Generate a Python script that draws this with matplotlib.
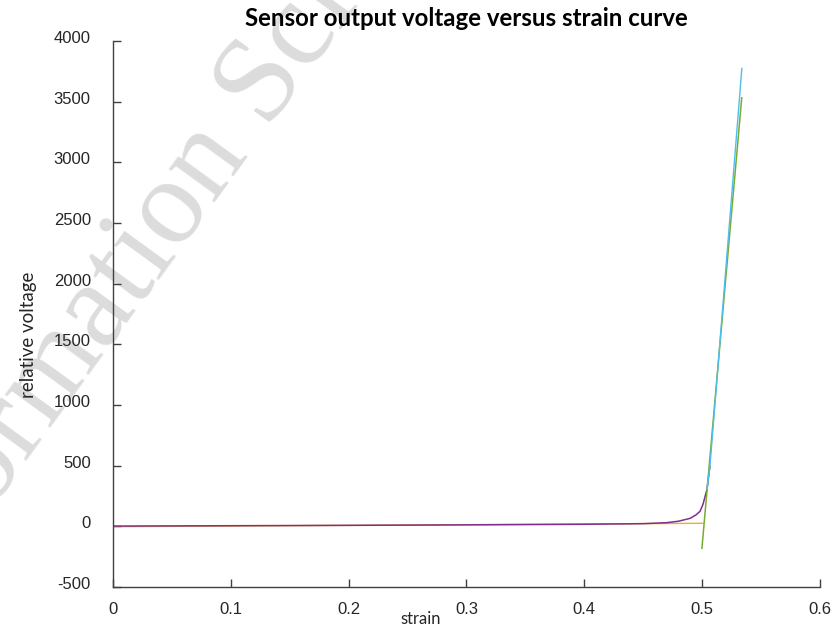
import matplotlib
matplotlib.use("Agg")
import matplotlib.pyplot as plt
import matplotlib.transforms as mtransforms

# measured curve (purple) - slow rise then knee near strain 0.5
strain_meas = [0.0, 0.1, 0.2, 0.3, 0.4, 0.45, 0.47, 0.48, 0.49, 0.495, 0.4983, 0.5008, 0.5042, 0.5067]
volt_meas = [2, 5, 8, 12, 17, 22, 30, 42, 66, 95, 124, 181, 305, 494]

# steep part of the measured curve (light blue)
strain_steep = [0.5042, 0.5067, 0.5182, 0.5338]
volt_steep = [305, 494, 1880, 3774]

# linear fit, low strain region (yellow)
strain_fit1 = [0.0, 0.5007]
volt_fit1 = [-3, 25]

# linear fit, high strain region (green)
strain_fit2 = [0.4999, 0.5337]
volt_fit2 = [-181, 3532]

xticks = [0, 0.1, 0.2, 0.3, 0.4, 0.5, 0.6]
yticks = [-500, 0, 500, 1000, 1500, 2000, 2500, 3000, 3500, 4000]

PURPLE = '#7E2F8E'
YELLOW = '#EDB120'
GREEN = '#77AC30'
LBLUE = '#4DBEEE'
AXCOL = '#404040'

fig = plt.figure(figsize=(8.4, 6.28), dpi=100)
ax = fig.add_axes([0.1345, 0.0653, 0.8415, 0.8694])
ax.patch.set_alpha(0)

# watermark behind everything
fig.text(0.236, 0.642, "Information Science", family="Liberation Serif", fontsize=88,
         color='#dcdcdc', rotation=54, rotation_mode='anchor', ha='center', va='baseline',
         zorder=-5)

ax.plot(strain_fit1, volt_fit1, color=YELLOW, lw=1.0)
ax.plot(strain_meas, volt_meas, color=PURPLE, lw=1.1)
ax.plot(strain_fit2, volt_fit2, color=GREEN, lw=1.1)
ax.plot(strain_steep, volt_steep, color=LBLUE, lw=1.0)

ax.set_xlim(0, 0.6)
ax.set_ylim(-500, 4000)
ax.set_xticks(xticks)
ax.set_xticklabels([f"{t:g}" for t in xticks])
ax.set_yticks(yticks)
ax.set_yticklabels([str(t) for t in yticks])

for s in ['top', 'right']:
    ax.spines[s].set_visible(False)
for s in ['left', 'bottom']:
    ax.spines[s].set_color(AXCOL)
    ax.spines[s].set_linewidth(1.0)

ax.tick_params(axis='both', direction='in', length=5.5, width=1.0, color=AXCOL,
               labelcolor='#262626', labelsize=12)
ax.tick_params(axis='y', pad=16)
ax.tick_params(axis='x', pad=11)
for lab in ax.get_xticklabels() + ax.get_yticklabels():
    lab.set_family("Liberation Sans")

# y tick labels sit slightly above their ticks
off = mtransforms.ScaledTranslation(0, 4 / 100, fig.dpi_scale_trans)
for lab in ax.get_yticklabels():
    lab.set_transform(lab.get_transform() + off)

ax.set_title("Sensor output voltage versus strain curve", family="Lato", fontweight='bold',
             fontsize=17.3, y=1.042, va='center', pad=0)
ax.set_xlabel("strain", family="Lato", fontsize=12, color='#262626', va='center')
ax.xaxis.set_label_coords(0.436, -0.0586)
ax.set_ylabel("relative voltage", family="Lato", fontsize=13.5, color='#262626', va='center')
ax.yaxis.set_label_coords(-0.120, 0.4615)

fig.savefig("out.png", dpi=100)
